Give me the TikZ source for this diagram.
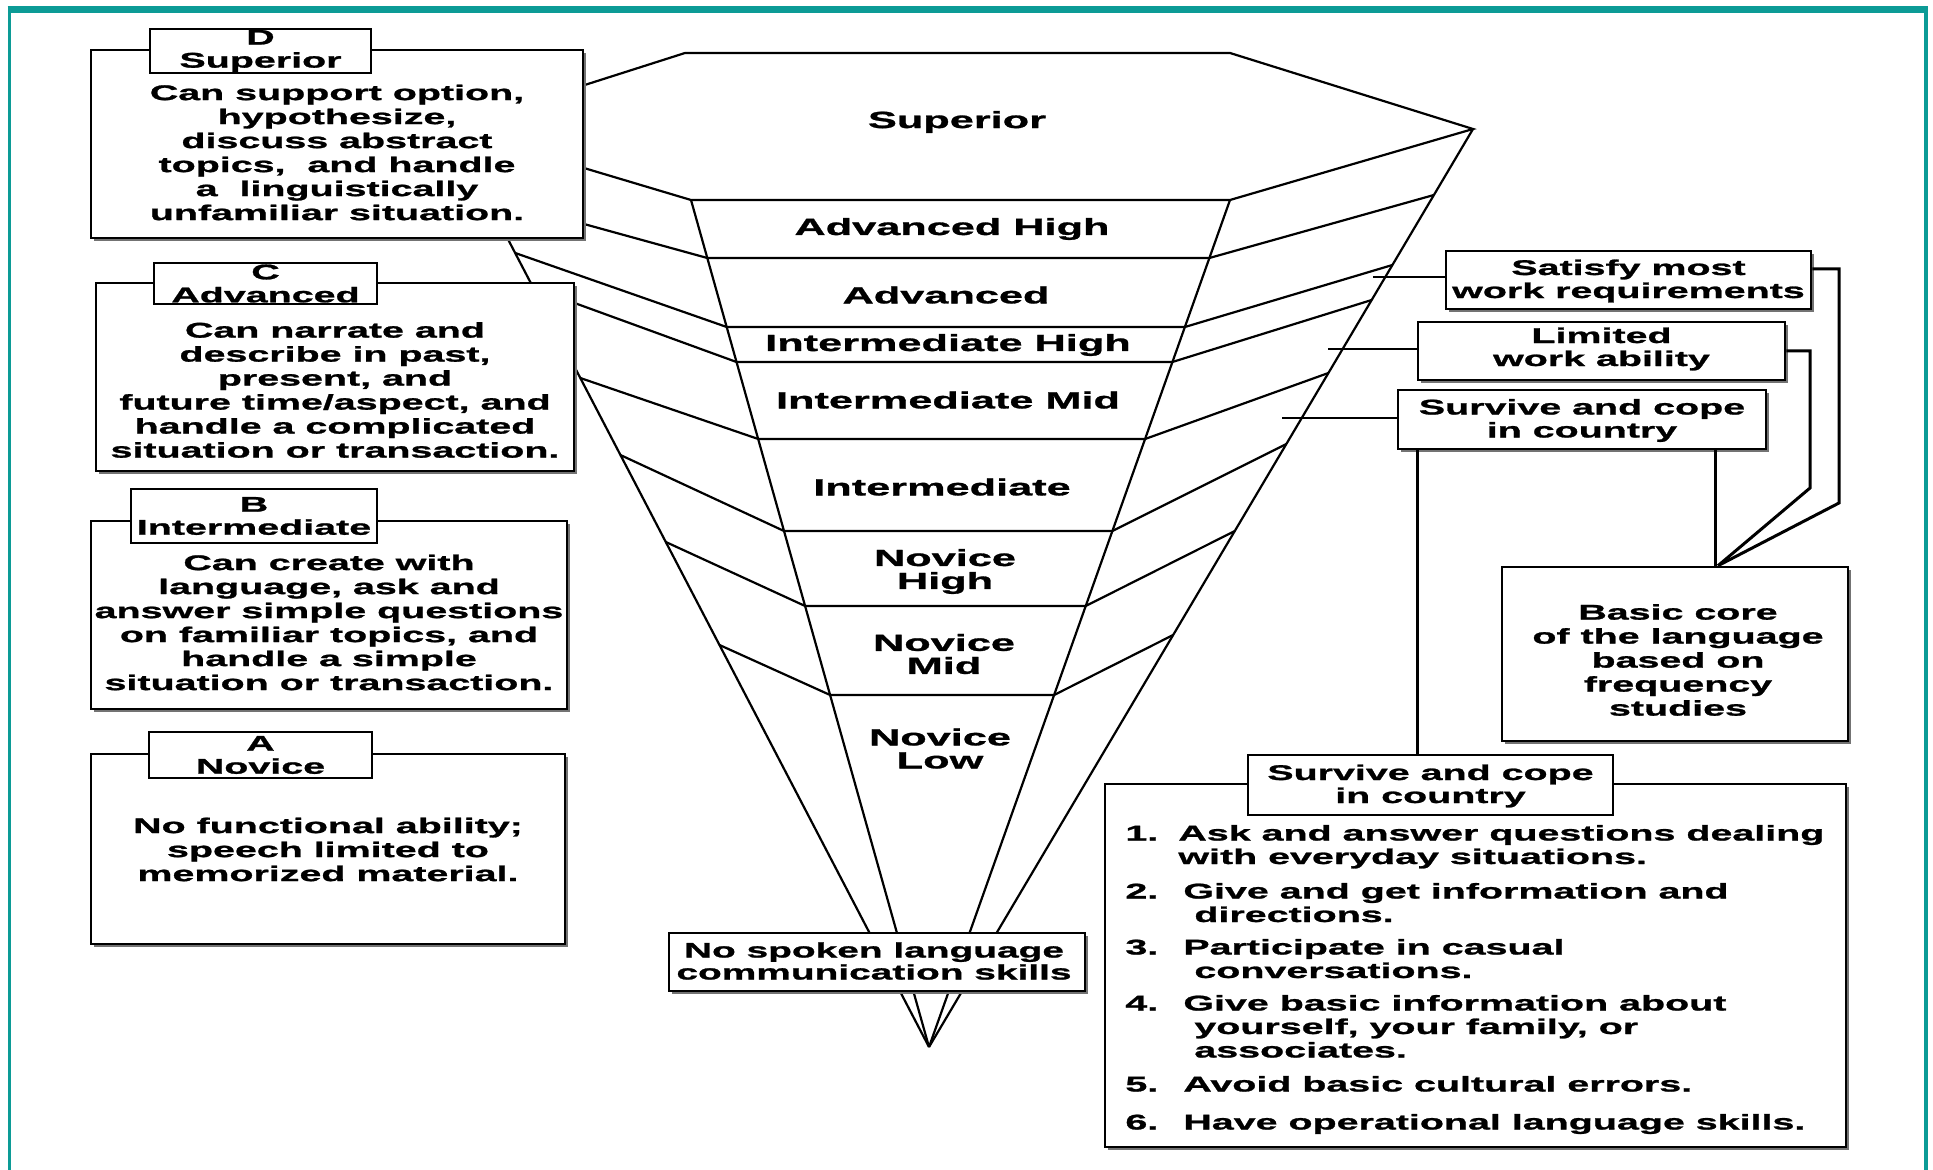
\documentclass[tikz,border=0pt]{standalone}
\usepackage{fontspec}
\newfontfamily\wfont{Liberation Sans}[FakeStretch=1.85,FakeBold=1.2]
\usetikzlibrary{calc,shadows}
\definecolor{teal1}{RGB}{12,155,150}
\begin{document}
\begin{tikzpicture}[x=0.5pt,y=-0.5pt,
  fl/.style={line width=1.1pt,line join=miter},
  bx/.style={rectangle,draw=black,line width=1.3pt,fill=white,inner sep=0pt,
     drop shadow={shadow xshift=1.6pt,shadow yshift=-1.6pt,fill=black!55,opacity=1}},
  tb/.style={rectangle,draw=black,line width=1.2pt,fill=white,inner sep=0pt},
  btx/.style={font=\wfont\bfseries\fontsize{10.65}{12}\selectfont,align=center,inner sep=0pt},
  ttx/.style={font=\wfont\bfseries\fontsize{10.65}{11.5}\selectfont,align=center,inner sep=0pt},
  ftx/.style={font=\wfont\bfseries\fontsize{11.7}{11.5}\selectfont,align=center,inner sep=0pt},
  ltx/.style={font=\wfont\bfseries\fontsize{10.65}{11.75}\selectfont,inner sep=0pt,anchor=base west},
  conn/.style={line width=1.5pt},
  hc/.style={line width=1pt}
]
\useasboundingbox (0,0) rectangle (1933,1170);
\fill[white] (0,0) rectangle (1933,1170);
% frame
\draw[teal1,line width=1.75pt] (9.25,1170) -- (9.25,9);
\draw[teal1,line width=3.5pt] (7.5,9.5) -- (1928,9.5);
\draw[teal1,line width=2pt] (1926,9) -- (1926,1170);

% funnel
\coordinate (TL) at (685,53);
\coordinate (TR) at (1230,53);
\coordinate (R0) at (1473,129);
\coordinate (BR) at (1230,200);
\coordinate (BL) at (691,200);
\coordinate (L0) at (450,128);
\coordinate (AP) at (929,1047);
\draw[fl] (L0) -- (TL) -- (TR) -- (R0) -- (BR) -- (BL) -- cycle;
\draw[fl] (L0) -- (AP);
\draw[fl] (BL) -- (AP);
\draw[fl] (BR) -- (AP);
\draw[fl] (R0) -- (AP);
\foreach \a/\b/\c/\d/\e/\f/\g in {
  486/197/707.3/258/1209.4/1433.9/195,
  515.2/253/726.7/327/1184.9/1392.4/265,
  533.4/288/736.5/362/1172.4/1371.7/300,
  580.3/378/758.2/439/1145.1/1328.4/373,
  620.4/455/784/531/1112.4/1286.3/444,
  665.8/542/805.1/606/1085.7/1234.8/531,
  719.5/645/830.1/695/1054.1/1173.1/635}
  {\draw[fl] (\a,\b) -- (\c,\d) -- (\e,\d) -- (\f,\g);}

% funnel labels
\node[ftx] (fSup) at (957,122) {Superior};
\node[ftx] (fAH) at (952,229) {Advanced High};
\node[ftx] (fA) at (946,295) {Advanced};
\node[ftx] (fIH) at (948,345) {Intermediate High};
\node[ftx] (fIM) at (948,400) {Intermediate Mid};
\node[ftx] (fI) at (942,487) {Intermediate};
\node[ftx] (fNH) at (945,571.5) {Novice\\High};
\node[ftx] (fNM) at (944,654) {Novice\\Mid};
\node[ftx] (fNL) at (940,748.5) {Novice\\Low};

% right boxes
\node[bx,minimum width=182.5pt,minimum height=29pt] (sat) at (1628.5,280) {};
\node[bx,minimum width=183.5pt,minimum height=29pt] (lim) at (1601.5,351) {};
\node[bx,minimum width=184pt,minimum height=29.5pt] (surv) at (1582,419.5) {};
\node[bx,minimum width=173pt,minimum height=87pt] (basic) at (1675,654) {};
\node[bx,minimum width=370.5pt,minimum height=181.5pt] (lowbox) at (1475.5,965.5) {};
\node[tb,minimum width=182.5pt,minimum height=30pt] (lowtab) at (1430.5,785) {};

% connectors funnel -> right boxes
\coordinate (c1) at (1373,277);
\coordinate (c2) at (1328,349);
\coordinate (c3) at (1282,418);
\draw[hc] (c1) -- (c1 -| sat.west);
\draw[hc] (c2) -- (c2 -| lim.west);
\draw[hc] (c3) -- (c3 -| surv.west);

% connectors right boxes
\coordinate (bj) at ([xshift=21.5pt]basic.north);
\draw[conn] ([yshift=5.5pt]sat.east) -| (1839,503) -- (bj);
\draw[conn] (lim.east) -| (1810,488) -- (bj);
\draw[conn] ([xshift=-26pt]surv.south east) -- ([xshift=-26pt]surv.south east |- basic.north);
\draw[conn] ([xshift=10.5pt]surv.south west) -- ([xshift=10.5pt]surv.south west |- lowtab.north);

\node[ttx] (satt) at (1628.5,281) {Satisfy most\\work requirements};
\node[ttx] (limt) at (1601.5,349) {Limited\\work ability};
\node[ttx] (survt) at (1582,420.5) {Survive and cope\\in country};
\node[btx] (basict) at (1678,660) {Basic core\\of the language\\based on\\frequency\\studies};
\node[ttx] (lowtabt) at (1430.5,786) {Survive and cope\\in country};

% list
\node[ltx] (it1) at (1125,840.5) {\begin{tabular}[t]{@{}p{26.5pt}@{}l@{}}1.&Ask and answer questions dealing\\&with everyday situations.\end{tabular}};
\node[ltx] (it2) at (1125,898.5) {\begin{tabular}[t]{@{}p{29pt}@{}l@{}}2.&Give and get information and\\&\hspace{5.5pt}directions.\end{tabular}};
\node[ltx] (it3) at (1125,954.5) {\begin{tabular}[t]{@{}p{29pt}@{}l@{}}3.&Participate in casual\\&\hspace{5.5pt}conversations.\end{tabular}};
\node[ltx] (it4) at (1125,1010.5) {\begin{tabular}[t]{@{}p{29pt}@{}l@{}}4.&Give basic information about\\&\hspace{5.5pt}yourself, your family, or\\&\hspace{5.5pt}associates.\end{tabular}};
\node[ltx] (it5) at (1125,1091.5) {\begin{tabular}[t]{@{}p{29pt}@{}l@{}}5.&Avoid basic cultural errors.\end{tabular}};
\node[ltx] (it6) at (1125,1129.5) {\begin{tabular}[t]{@{}p{29pt}@{}l@{}}6.&Have operational language skills.\end{tabular}};

% no spoken
\node[bx,minimum width=208pt,minimum height=29pt] (nosp) at (877,962) {};
\node[font=\wfont\bfseries\fontsize{10.5}{11}\selectfont,align=center,inner sep=0pt] (nospt) at (874,961) {No spoken language\\communication skills};

% left boxes
\node[bx,minimum width=246pt,minimum height=94pt] (Dbox) at (337,144) {};
\node[tb,minimum width=110.5pt,minimum height=22pt] (Dtab) at (260.5,51) {};
\node[ttx] (Dtabt) at (260.5,51) {D\\Superior};
\node[btx] (Dtxt) at (337,152.5) {Can support option,\\hypothesize,\\discuss abstract\\topics,~ and handle\\a~ linguistically\\unfamiliar situation.};

\node[bx,minimum width=239pt,minimum height=94pt] (Cbox) at (335,377) {};
\node[tb,minimum width=111.5pt,minimum height=20.5pt] (Ctab) at (265.5,283.5) {};
\node[ttx] (Ctabt) at (265.5,283.5) {C\\Advanced};
\node[btx] (Ctxt) at (335,390) {Can narrate and\\describe in past,\\present, and\\future time/aspect, and\\handle a complicated\\situation or transaction.};

\node[bx,minimum width=238pt,minimum height=94pt] (Bbox) at (329,615) {};
\node[tb,minimum width=123pt,minimum height=27pt] (Btab) at (254,516) {};
\node[ttx] (Btabt) at (254,516) {B\\Intermediate};
\node[btx] (Btxt) at (329,622.5) {Can create with\\language, ask and\\answer simple questions\\on familiar topics, and\\handle a simple\\situation or transaction.};

\node[bx,minimum width=237pt,minimum height=95pt] (Abox) at (328,849) {};
\node[tb,minimum width=111.5pt,minimum height=23pt] (Atab) at (260.5,755) {};
\node[ttx] (Atabt) at (260.5,755) {A\\Novice};
\node[btx] (Atxt) at (328,849.5) {No functional ability;\\speech limited to\\memorized material.};
\end{tikzpicture}
\end{document}
